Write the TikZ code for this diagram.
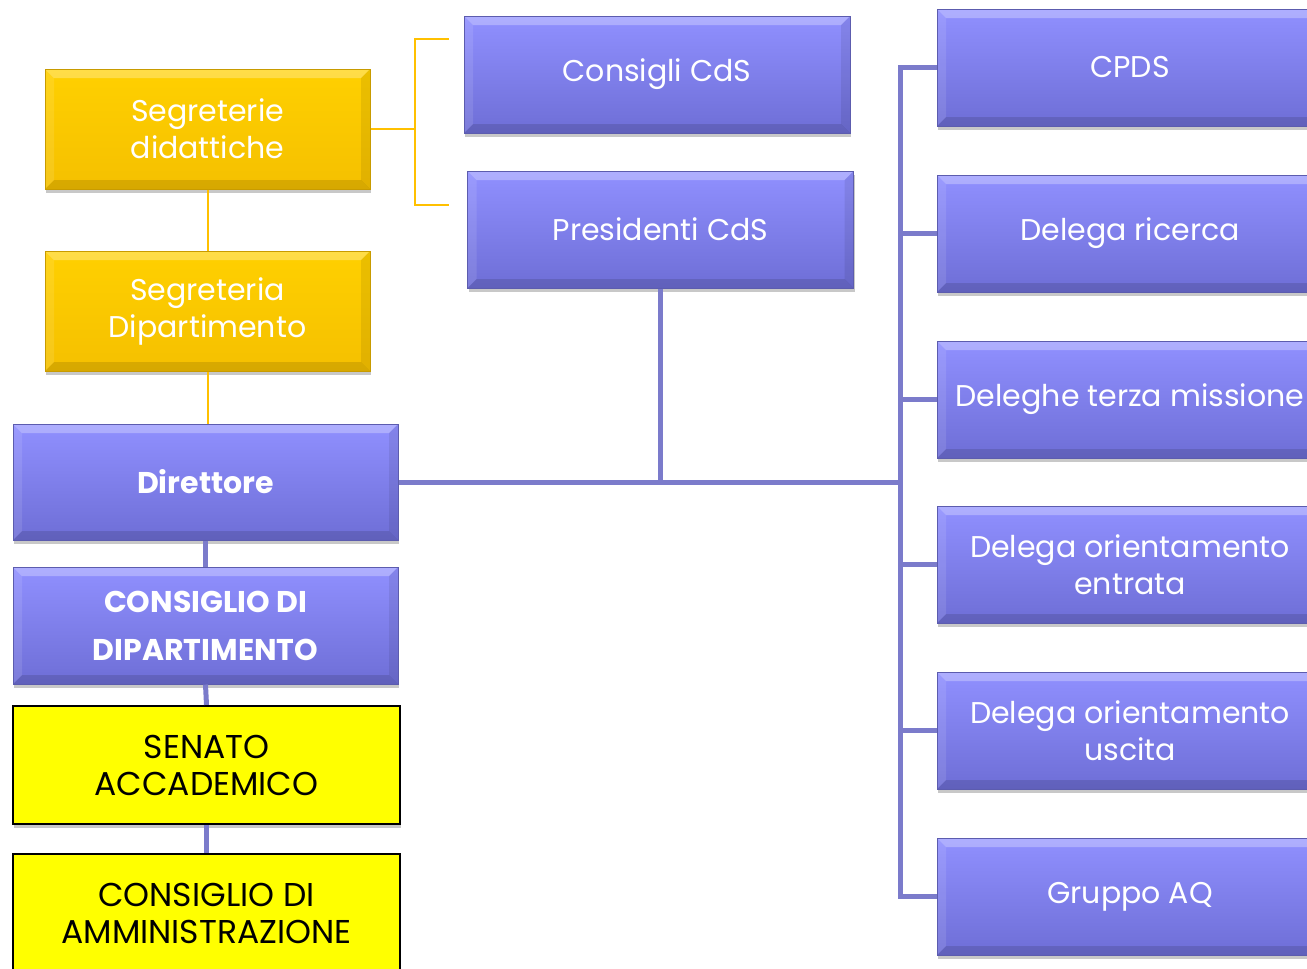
\documentclass[tikz,border=0pt]{standalone}
\usepackage{fontspec}
\setmainfont{Poppins}
\usetikzlibrary{shadows,calc}
\definecolor{bTop}{HTML}{9090FF}
\definecolor{bBot}{HTML}{6E6ED6}
\definecolor{bEdge}{HTML}{5C5CAE}
\definecolor{oTop}{HTML}{FFD000}
\definecolor{oBot}{HTML}{F5C000}
\definecolor{oEdge}{HTML}{C89B00}
\definecolor{yFill}{HTML}{FFFF00}
\definecolor{bLine}{HTML}{7B7BCB}
\definecolor{oLine}{HTML}{FFC000}
\tikzset{
  bevel/.style={path picture={
    \fill[white,opacity=0.28] (path picture bounding box.north west) -- (path picture bounding box.north east) -- ([xshift=-9pt,yshift=-9pt]path picture bounding box.north east) -- ([xshift=9pt,yshift=-9pt]path picture bounding box.north west) -- cycle;
    \fill[black,opacity=0.12] (path picture bounding box.south west) -- (path picture bounding box.south east) -- ([xshift=-9pt,yshift=9pt]path picture bounding box.south east) -- ([xshift=9pt,yshift=9pt]path picture bounding box.south west) -- cycle;
    \fill[black,opacity=0.08] (path picture bounding box.north east) -- (path picture bounding box.south east) -- ([xshift=-9pt,yshift=9pt]path picture bounding box.south east) -- ([xshift=-9pt,yshift=-9pt]path picture bounding box.north east) -- cycle;
    \fill[white,opacity=0.10] (path picture bounding box.north west) -- (path picture bounding box.south west) -- ([xshift=9pt,yshift=9pt]path picture bounding box.south west) -- ([xshift=9pt,yshift=-9pt]path picture bounding box.north west) -- cycle;
  }},
  boxshadow/.style={drop shadow={opacity=0.3,shadow xshift=1pt,shadow yshift=-4pt,fill=black!70}},
  bluebox/.style={rectangle, minimum width=386pt, minimum height=117pt, inner sep=0pt,
    top color=bTop, bottom color=bBot, draw=bEdge, line width=1pt,
    text=white, align=center, font=\fontsize{30}{37}\selectfont, boxshadow, bevel},
  orangebox/.style={rectangle, minimum width=325pt, minimum height=120pt, inner sep=0pt,
    top color=oTop, bottom color=oBot, draw=oEdge, line width=1pt,
    text=white, align=center, font=\fontsize{30}{37}\selectfont, boxshadow, bevel},
  yellowbox/.style={rectangle, minimum width=387pt, minimum height=118pt, inner sep=0pt,
    fill=yFill, draw=black, line width=2.2pt,
    text=black, align=center, font=\fontsize{33}{37}\selectfont, boxshadow},
  bline/.style={draw=bLine, line width=5pt},
  oline/.style={draw=oLine, line width=2pt},
}
\begin{document}
\begin{tikzpicture}[x=1pt,y=-1pt]
\useasboundingbox (0,0) rectangle (1307,969);
\clip (0,0) rectangle (1307,969);
\fill[white] (0,0) rectangle (1307,969);

% coordinates for connectors
\coordinate (spine) at (900,0);
\coordinate (brk) at (415,0);
\coordinate (brkTop) at (415,39);
\coordinate (brkBot) at (415,205);
\coordinate (brkTopEnd) at (449,39);
\coordinate (brkBotEnd) at (449,205);

\node[bluebox] (consigli) at (657,74.5) {Consigli CdS};
\node[bluebox] (pres) at (660.5,229.5) {Presidenti CdS};
\node[orangebox] (segdid) at (207.5,129) {Segreterie\\didattiche};
\node[orangebox] (segdip) at (207.5,311) {Segreteria\\Dipartimento};
\node[bluebox, minimum width=385pt, minimum height=116pt, font=\fontsize{30}{37}\selectfont\bfseries] (dir) at (205.5,482) {Direttore};
\node[bluebox, minimum width=385pt, font=\fontsize{30}{48}\selectfont\bfseries] (cdip) at (205.5,625.5) {CONSIGLIO DI\\DIPARTIMENTO};
\node[yellowbox] (senato) at (206.5,765) {SENATO\\ACCADEMICO};
\node[yellowbox] (cda) at (206.5,913) {CONSIGLIO DI\\AMMINISTRAZIONE};

\node[bluebox] (cpds) at (1130,67.5) {CPDS};
\node[bluebox] (ric) at (1130,233.5) {Delega ricerca};
\node[bluebox] (terza) at (1130,399.5) {Deleghe terza missione};
\node[bluebox] (entr) at (1130,564.5) {Delega orientamento\\entrata};
\node[bluebox] (usc) at (1130,730.5) {Delega orientamento\\uscita};
\node[bluebox] (gaq) at (1130,896.5) {Gruppo AQ};

% blue connectors
\draw[bline] (dir.east) -- (dir.east -| spine);
\draw[bline] (pres.south) -- (pres.south |- dir.east);
\draw[bline] (cpds.west) -- (cpds.west -| spine) -- (gaq.west -| spine) -- (gaq.west);
\draw[bline] (ric.west) -- (ric.west -| spine);
\draw[bline] (terza.west) -- (terza.west -| spine);
\draw[bline] (entr.west) -- (entr.west -| spine);
\draw[bline] (usc.west) -- (usc.west -| spine);
\draw[bline] (dir.south) -- (cdip.north);
\draw[bline] (cdip.south) -- (senato.north);
\draw[bline] (senato.south) -- (cda.north);

% orange connectors
\draw[oline] (segdid.south) -- (segdip.north);
\draw[oline] (segdip.south) -- (segdip.south |- dir.north);
\draw[oline] (segdid.east) -- (segdid.east -| brk);
\draw[oline] (brkTopEnd) -- (brkTop) -- (brkBot) -- (brkBotEnd);
\end{tikzpicture}
\end{document}
